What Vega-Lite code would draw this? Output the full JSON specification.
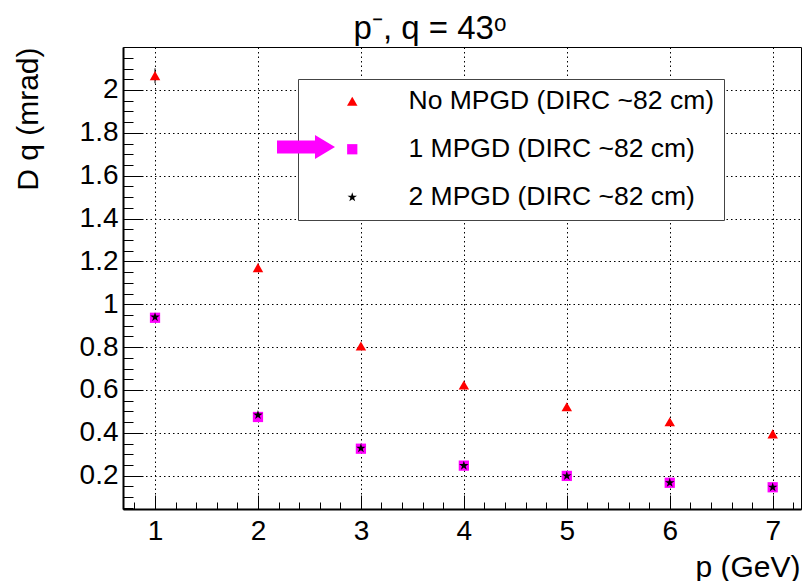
{
  "$schema": "https://vega.github.io/schema/vega-lite/v6.json",
  "width": 678,
  "height": 462,
  "autosize": "none",
  "padding": {"left": 123, "top": 47, "right": 3, "bottom": 72},
  "background": "white",
  "title": {
    "text": "p⁻, q = 43ᵒ",
    "font": "Liberation Sans",
    "fontSize": 33,
    "fontWeight": "normal",
    "color": "black",
    "anchor": "middle",
    "frame": "group",
    "dx": -32,
    "offset": 1
  },
  "datasets": {
    "pts": [
      {"series": "No MPGD (DIRC ~82 cm)", "p": 1, "dtheta": 2.067},
      {"series": "No MPGD (DIRC ~82 cm)", "p": 2, "dtheta": 1.171},
      {"series": "No MPGD (DIRC ~82 cm)", "p": 3, "dtheta": 0.805},
      {"series": "No MPGD (DIRC ~82 cm)", "p": 4, "dtheta": 0.623},
      {"series": "No MPGD (DIRC ~82 cm)", "p": 5, "dtheta": 0.522},
      {"series": "No MPGD (DIRC ~82 cm)", "p": 6, "dtheta": 0.452},
      {"series": "No MPGD (DIRC ~82 cm)", "p": 7, "dtheta": 0.395},
      {"series": "1 MPGD (DIRC ~82 cm)", "p": 1, "dtheta": 0.937},
      {"series": "1 MPGD (DIRC ~82 cm)", "p": 2, "dtheta": 0.474},
      {"series": "1 MPGD (DIRC ~82 cm)", "p": 3, "dtheta": 0.326},
      {"series": "1 MPGD (DIRC ~82 cm)", "p": 4, "dtheta": 0.247},
      {"series": "1 MPGD (DIRC ~82 cm)", "p": 5, "dtheta": 0.199},
      {"series": "1 MPGD (DIRC ~82 cm)", "p": 6, "dtheta": 0.167},
      {"series": "1 MPGD (DIRC ~82 cm)", "p": 7, "dtheta": 0.146},
      {"series": "2 MPGD (DIRC ~82 cm)", "p": 1, "dtheta": 0.940},
      {"series": "2 MPGD (DIRC ~82 cm)", "p": 2, "dtheta": 0.483},
      {"series": "2 MPGD (DIRC ~82 cm)", "p": 3, "dtheta": 0.328},
      {"series": "2 MPGD (DIRC ~82 cm)", "p": 4, "dtheta": 0.247},
      {"series": "2 MPGD (DIRC ~82 cm)", "p": 5, "dtheta": 0.199},
      {"series": "2 MPGD (DIRC ~82 cm)", "p": 6, "dtheta": 0.167},
      {"series": "2 MPGD (DIRC ~82 cm)", "p": 7, "dtheta": 0.146}
    ],
    "errs": [
      {"series": "No MPGD (DIRC ~82 cm)", "p": 1, "lo": 2.031, "hi": 2.101}
    ],
    "arrow": [
      {"kind": "pointer", "p": 2.47, "dtheta": 1.734}
    ]
  },
  "resolve": {"axis": {"x": "independent", "y": "independent"}},
  "layer": [
    {
      "data": {"name": "errs"},
      "mark": {"type": "rule", "color": "black", "strokeWidth": 1},
      "encoding": {
        "x": {
          "field": "p", "type": "quantitative",
          "scale": {"domain": [0.689, 7.275], "nice": false, "zero": false},
          "axis": {
            "orient": "bottom", "title": null, "labels": false, "grid": false, "domain": false,
            "ticks": true, "tickSize": -7, "tickColor": "black", "tickWidth": 1,
            "values": [0.8, 1.2, 1.4, 1.6, 1.8, 2.2, 2.4, 2.6, 2.8, 3.2, 3.4, 3.6, 3.8, 4.2, 4.4, 4.6, 4.8, 5.2, 5.4, 5.6, 5.8, 6.2, 6.4, 6.6, 6.8, 7.2]
          }
        },
        "y": {
          "field": "lo", "type": "quantitative",
          "scale": {"domain": [0.0446, 2.2006], "nice": false, "zero": false},
          "axis": {
            "orient": "left", "title": null, "labels": false, "grid": false, "domain": false,
            "ticks": true, "tickSize": -10, "tickColor": "black", "tickWidth": 1,
            "values": [0.05, 0.1, 0.15, 0.25, 0.3, 0.35, 0.45, 0.5, 0.55, 0.65, 0.7, 0.75, 0.85, 0.9, 0.95, 1.05, 1.1, 1.15, 1.25, 1.3, 1.35, 1.45, 1.5, 1.55, 1.65, 1.7, 1.75, 1.85, 1.9, 1.95, 2.05, 2.1, 2.15]
          }
        },
        "y2": {"field": "hi"}
      }
    },
    {
      "data": {"name": "pts"},
      "mark": {"type": "point", "filled": true, "opacity": 1, "strokeWidth": 0},
      "encoding": {
        "x": {
          "field": "p", "type": "quantitative",
          "axis": {
            "orient": "bottom", "title": "p (GeV)", "ticks": false, "grid": true,
            "values": [1, 2, 3, 4, 5, 6, 7], "format": "~g",
            "gridColor": "black", "gridDash": [1.5, 3], "gridOpacity": 1, "gridWidth": 1,
            "domain": true, "domainColor": "black", "domainWidth": 2,
            "labelFont": "Liberation Sans", "labelFontSize": 28, "labelColor": "black", "labelPadding": 8,
            "titleFont": "Liberation Sans", "titleFontSize": 30, "titleFontWeight": "normal", "titleColor": "black",
            "titleX": 677, "titleY": 67, "titleAlign": "right", "titleBaseline": "alphabetic"
          }
        },
        "y": {
          "field": "dtheta", "type": "quantitative",
          "axis": {
            "orient": "left", "title": "D q (mrad)", "ticks": false, "grid": true,
            "values": [0.2, 0.4, 0.6, 0.8, 1, 1.2, 1.4, 1.6, 1.8, 2], "format": "~g",
            "gridColor": "black", "gridDash": [1.5, 3], "gridOpacity": 1, "gridWidth": 1,
            "domain": true, "domainColor": "black", "domainWidth": 2,
            "labelFont": "Liberation Sans", "labelFontSize": 28, "labelColor": "black", "labelPadding": 5,
            "titleFont": "Liberation Sans", "titleFontSize": 30, "titleFontWeight": "normal", "titleColor": "black",
            "titleX": -86, "titleY": 0, "titleAngle": -90, "titleAlign": "right", "titleBaseline": "alphabetic"
          }
        },
        "color": {
          "field": "series", "type": "nominal",
          "scale": {"domain": ["No MPGD (DIRC ~82 cm)", "1 MPGD (DIRC ~82 cm)", "2 MPGD (DIRC ~82 cm)"], "range": ["#ff0000", "#ff00ff", "#000000"]},
          "legend": {
            "orient": "none", "legendX": 175, "legendY": 32, "title": null, "zindex": 1,
            "fillColor": "white", "strokeColor": "#444444",
            "padding": 9, "rowPadding": 21, "symbolOffset": 32, "labelOffset": 43,
            "labelFont": "Liberation Sans", "labelFontSize": 26.5, "labelColor": "black", "labelLimit": 500,
            "symbolStrokeWidth": 0
          }
        },
        "shape": {
          "field": "series", "type": "nominal",
          "scale": {"domain": ["No MPGD (DIRC ~82 cm)", "1 MPGD (DIRC ~82 cm)", "2 MPGD (DIRC ~82 cm)"], "range": ["triangle-up", "square", "M0,-1L0.223,-0.307L0.951,-0.309L0.361,0.117L0.588,0.809L0,0.38L-0.588,0.809L-0.361,0.117L-0.951,-0.309L-0.223,-0.307Z"]}
        },
        "size": {
          "field": "series", "type": "nominal",
          "scale": {"domain": ["No MPGD (DIRC ~82 cm)", "1 MPGD (DIRC ~82 cm)", "2 MPGD (DIRC ~82 cm)"], "range": [110, 100, 90]}
        }
      }
    },
    {
      "data": {"name": "arrow"},
      "mark": {
        "type": "point", "filled": true, "fill": "#ff00ff", "stroke": "black", "strokeWidth": 2, "opacity": 0, "size": 3364,
        "shape": "M-1,-0.224L0.31,-0.224L0.31,-0.414L1,0L0.31,0.414L0.31,0.224L-1,0.224Z"
      },
      "encoding": {
        "x": {
          "field": "p", "type": "quantitative",
          "axis": {
            "orient": "bottom", "title": null, "labels": false, "grid": false, "domain": false,
            "ticks": true, "tickSize": -14, "tickColor": "black", "tickWidth": 1,
            "values": [1, 2, 3, 4, 5, 6, 7]
          }
        },
        "y": {
          "field": "dtheta", "type": "quantitative",
          "axis": {
            "orient": "left", "title": null, "labels": false, "grid": false, "domain": false,
            "ticks": true, "tickSize": -20, "tickColor": "black", "tickWidth": 1,
            "values": [0.2, 0.4, 0.6, 0.8, 1, 1.2, 1.4, 1.6, 1.8, 2]
          }
        },
        "strokeWidth": {
          "field": "kind", "type": "ordinal",
          "scale": {"domain": ["pointer"], "range": [2]},
          "legend": {
            "orient": "none", "legendX": 183, "legendY": 100, "title": null, "zindex": 2,
            "padding": 0, "symbolOffset": 0, "labelOffset": 0, "labelExpr": "''",
            "symbolType": "M-1,-0.224L0.31,-0.224L0.31,-0.414L1,0L0.31,0.414L0.31,0.224L-1,0.224Z",
            "symbolSize": 3364, "symbolOpacity": 1, "symbolFillColor": "#ff00ff",
            "symbolStrokeColor": "black", "symbolStrokeWidth": 2
          }
        }
      }
    }
  ],
  "config": {
    "view": {"stroke": "black", "strokeWidth": 1},
    "font": "Liberation Sans",
    "legend": {"strokeWidth": 1}
  }
}
